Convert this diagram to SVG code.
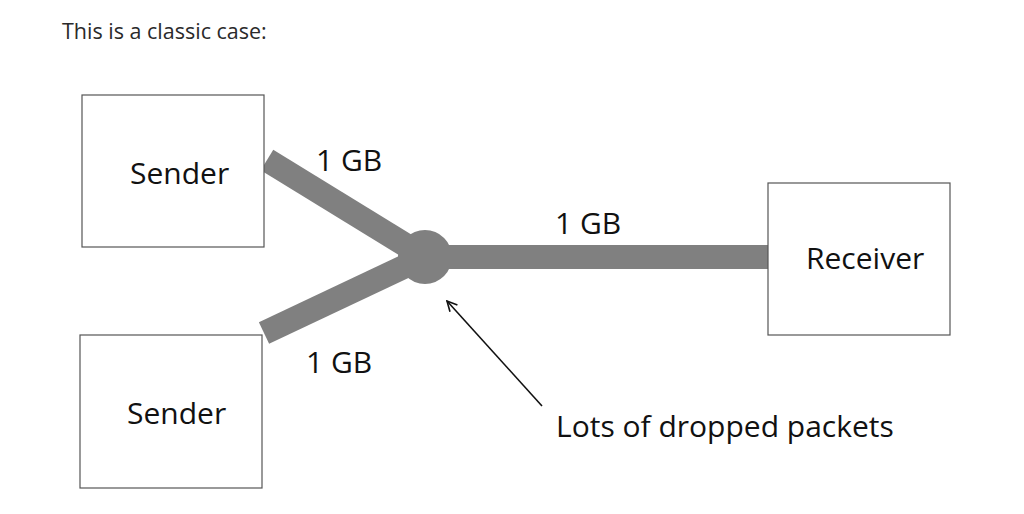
<svg xmlns="http://www.w3.org/2000/svg" width="1024" height="514" viewBox="0 0 1024 514">
<defs>
<style>
.box{fill:#fff;stroke:#555;stroke-width:1.2}
.lbl{font-family:"Open Sans","Noto Sans",sans-serif;font-size:30px;fill:#111}
.pipe{stroke:#808080;stroke-width:24;fill:none;stroke-linecap:butt}
</style>
<marker id="open" viewBox="0 0 12 12" refX="11" refY="6" markerWidth="12" markerHeight="12" markerUnits="userSpaceOnUse" orient="auto">
<path d="M1,1 L11,6 L1,11" fill="none" stroke="#111" stroke-width="1.6"/>
</marker>
</defs>
<rect width="1024" height="514" fill="#fff"/>
<text x="62" y="39" font-family="Open Sans, Noto Sans, sans-serif" font-size="21.5" fill="#2a2a2a">This is a classic case:</text>
<g id="connectors">
<line class="pipe" x1="267" y1="160" x2="425" y2="257"/>
<line class="pipe" x1="264" y1="333" x2="425" y2="257"/>
<line class="pipe" x1="425" y1="257" x2="768" y2="257" stroke-width="26"/>
<circle cx="425" cy="257" r="27" fill="#808080"/>
<line x1="542" y1="406" x2="447" y2="301" stroke="#111" stroke-width="1.6" marker-end="url(#open)"/>
<text class="lbl" x="316" y="171">1 GB</text>
<text class="lbl" x="555" y="234">1 GB</text>
<text class="lbl" x="306" y="373">1 GB</text>
<text class="lbl" x="556" y="437">Lots of dropped packets</text>
</g>
<g id="sender1">
<rect class="box" x="82" y="95" width="182" height="152"/>
<text class="lbl" x="130" y="184">Sender</text>
</g>
<g id="sender2">
<rect class="box" x="80" y="335" width="182" height="153"/>
<text class="lbl" x="127" y="424">Sender</text>
</g>
<g id="receiver">
<rect class="box" x="768" y="183" width="182" height="152"/>
<text class="lbl" x="806" y="269">Receiver</text>
</g>
</svg>
